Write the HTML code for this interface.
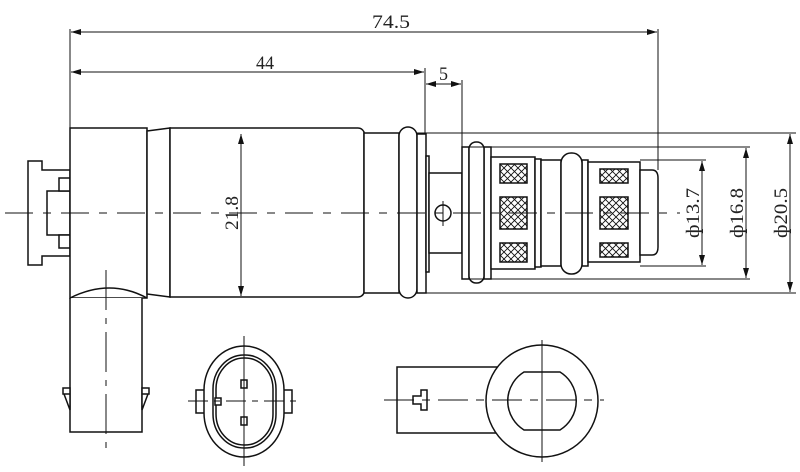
<!DOCTYPE html>
<html><head><meta charset="utf-8"><style>
html,body{margin:0;padding:0;background:#fff;}
svg{display:block}
text{font-family:"Liberation Serif",serif;fill:#222;}
</style></head><body>
<svg width="800" height="472" viewBox="0 0 800 472" xmlns="http://www.w3.org/2000/svg">
<defs>
<marker id="a" markerWidth="10" markerHeight="6" refX="10" refY="3" orient="auto-start-reverse" markerUnits="userSpaceOnUse"><path d="M0,0 L10,3 L0,6z" fill="#111"/></marker>
<pattern id="x" width="7" height="7" patternUnits="userSpaceOnUse"><path d="M0,0L7,7M7,0L0,7" stroke="#111" stroke-width="0.9"/></pattern>
</defs>
<g fill="#fff" stroke="#111" stroke-width="1.5">
<path d="M28,161 H42 V170 H70 V256 H42 V265 H28 Z"/>
<rect x="47" y="191" width="23" height="44"/>
<rect x="59" y="178" width="11" height="13"/>
<rect x="59" y="235" width="11" height="13"/>
<rect x="70" y="128" width="77" height="170"/>
<path d="M70,298 V432 H142 V298"/>
<path d="M70,298 Q110,278 147,298" fill="none"/>
<path d="M63,388 H70 V410 L64,394 H63 Z M63,394 H70"/>
<path d="M149,388 H142 V410 L148,394 H149 Z M149,394 H142"/>
<path d="M147,131 L170,128 V297 L147,294 Z"/>
<path d="M170,128 H358 Q362,128 364,132 V293 Q362,297 358,297 H170 Z"/>
<rect x="364" y="133" width="35" height="160"/>
<rect x="399" y="127" width="18" height="171" rx="9"/>
<rect x="417" y="134" width="9" height="159"/>
<rect x="426" y="156" width="3" height="116"/>
<rect x="429" y="173" width="33" height="80"/>
<rect x="462" y="147" width="7" height="132"/>
<rect x="484" y="147" width="7" height="132"/>
<rect x="469" y="142" width="15" height="141" rx="7"/>
<rect x="491" y="157" width="44" height="112"/>
<rect x="535" y="159" width="6" height="108"/>
<rect x="541" y="160" width="20" height="106"/>
<rect x="582" y="160" width="6" height="106"/>
<rect x="561" y="153" width="21" height="121" rx="10"/>
<rect x="588" y="162" width="52" height="100"/>
<path d="M640,170 H652 Q658,170 658,178 V247 Q658,255 652,255 H640 Z"/>
</g>
<g stroke="#111" stroke-width="1.5" fill="url(#x)">
<rect x="500" y="164" width="27" height="19"/>
<rect x="500" y="197" width="27" height="32"/>
<rect x="500" y="243" width="27" height="19"/>
<rect x="600" y="169" width="28" height="14"/>
<rect x="600" y="197" width="28" height="32"/>
<rect x="600" y="243" width="28" height="14"/>
</g>
<circle cx="443" cy="213" r="8" fill="none" stroke="#111" stroke-width="1.5"/>
<line x1="443" y1="201" x2="443" y2="226" stroke="#111"/>
<g fill="none" stroke="#111" stroke-width="1">
<line x1="70" y1="29" x2="70" y2="128"/>
<line x1="658" y1="29" x2="658" y2="170"/>
<line x1="425" y1="68" x2="425" y2="134"/>
<line x1="462" y1="80" x2="462" y2="147"/>
<line x1="71" y1="32" x2="657" y2="32" marker-start="url(#a)" marker-end="url(#a)"/>
<line x1="71" y1="72" x2="424" y2="72" marker-start="url(#a)" marker-end="url(#a)"/>
<line x1="426" y1="84" x2="461" y2="84" marker-start="url(#a)" marker-end="url(#a)"/>
<line x1="241" y1="134" x2="241" y2="296" marker-start="url(#a)" marker-end="url(#a)"/>
<line x1="702" y1="161" x2="702" y2="265" marker-start="url(#a)" marker-end="url(#a)"/>
<line x1="746" y1="148" x2="746" y2="278" marker-start="url(#a)" marker-end="url(#a)"/>
<line x1="790" y1="134" x2="790" y2="292" marker-start="url(#a)" marker-end="url(#a)"/>
<line x1="640" y1="160" x2="706" y2="160"/>
<line x1="640" y1="266" x2="706" y2="266"/>
<line x1="462" y1="147" x2="750" y2="147"/>
<line x1="462" y1="279" x2="750" y2="279"/>
<line x1="417" y1="133" x2="796" y2="133"/>
<line x1="417" y1="293" x2="796" y2="293"/>
<line x1="106" y1="270" x2="106" y2="448" stroke-dasharray="40,8,6,8"/>
</g>
<line x1="5" y1="213" x2="680" y2="213" stroke="#111" stroke-width="1" stroke-dasharray="28,10,8,10"/>
<g fill="#fff" stroke="#111" stroke-width="1.5">
<rect x="196" y="390" width="9" height="23"/>
<rect x="283" y="390" width="9" height="23"/>
<rect x="204" y="346" width="80" height="111" rx="40" ry="44"/>
<rect x="213" y="355" width="63" height="93" rx="31" ry="34"/>
<rect x="216" y="358" width="57" height="87" rx="28" ry="31"/>
<rect x="241" y="380" width="6" height="8"/>
<rect x="241" y="417" width="6" height="8"/>
<rect x="215" y="398" width="6" height="7"/>
</g>
<g stroke="#111" stroke-width="1" fill="none">
<line x1="244" y1="336" x2="244" y2="466"/>
<line x1="188" y1="401" x2="300" y2="401" stroke-dasharray="20,6,6,6"/>
</g>
<g fill="#fff" stroke="#111" stroke-width="1.5">
<rect x="397" y="367" width="100" height="66"/>
<circle cx="542" cy="401" r="56"/>
<path d="M524,372 H560 A34,34 0 0 1 560,430 H524 A34,34 0 0 1 524,372 Z"/>
<path d="M413,396 H421 V390 H427 V410 H421 V404 H413 Z" fill="none"/>
</g>
<g stroke="#111" stroke-width="1" fill="none">
<line x1="542" y1="340" x2="542" y2="462"/>
<line x1="384" y1="400" x2="604" y2="400" stroke-dasharray="30,8,8,8"/>
</g>
<g font-size="19">
<text x="372" y="28" textLength="38" lengthAdjust="spacingAndGlyphs">74.5</text>
<text x="256" y="69" textLength="18" lengthAdjust="spacingAndGlyphs">44</text>
<text x="439" y="80" textLength="9" lengthAdjust="spacingAndGlyphs">5</text>
<text transform="translate(238,230) rotate(-90)" textLength="34" lengthAdjust="spacingAndGlyphs">21.8</text>
<text transform="translate(699,238) rotate(-90)" textLength="50" lengthAdjust="spacingAndGlyphs">ф13.7</text>
<text transform="translate(743,238) rotate(-90)" textLength="50" lengthAdjust="spacingAndGlyphs">ф16.8</text>
<text transform="translate(787,238) rotate(-90)" textLength="50" lengthAdjust="spacingAndGlyphs">ф20.5</text>
</g>
</svg>
</body></html>
